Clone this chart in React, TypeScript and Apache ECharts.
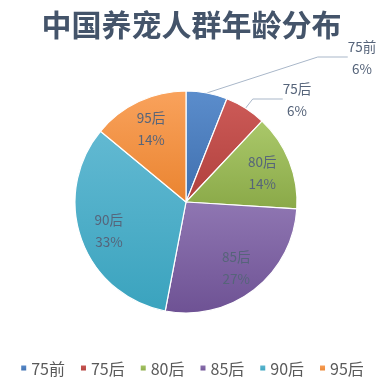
import React, { useEffect, useRef } from "react";
import * as echarts from "echarts";

const titleText = "中国养宠人群年龄分布";
const categories = ["75前", "75后", "80后", "85后", "90后", "95后"];
const shares = [6, 6, 14, 27, 33, 14];
const topColors = ["#5b8dcc", "#cc5a57", "#aac86a", "#8f76b2", "#62b9d2", "#f9a25c"];
const bottomColors = ["#3f6fae", "#b0403d", "#8aa948", "#6e5294", "#3aa3be", "#ea8430"];
const outsideLabels = [true, true, false, false, false, false];

const grad = (i: number) =>
  new echarts.graphic.LinearGradient(0, 0, 0, 1, [
    { offset: 0, color: topColors[i] },
    { offset: 1, color: bottomColors[i] },
  ]);

export default function App() {
  const ref = useRef<HTMLDivElement>(null);
  useEffect(() => {
    if (!ref.current) return;
    const chart = echarts.init(ref.current, undefined, { renderer: "svg" });
    const labelColor = "#56647a";
    const font = "'Noto Sans CJK SC', 'Noto Sans', sans-serif";
    const mainData = categories.map((name, i) => ({
      name,
      value: shares[i],
      itemStyle: { color: grad(i) },
      label: { show: outsideLabels[i] },
      labelLine: { show: outsideLabels[i] },
    }));
    const innerData = categories.map((name, i) => ({
      name,
      value: shares[i],
      label: { show: !outsideLabels[i] },
    }));
    const outsidePos: Record<number, [number, number]> = {
      0: [362, 57],
      1: [297, 99],
    };
    chart.setOption({
      animation: false,
      color: topColors,
      title: {
        text: titleText,
        left: "center",
        top: 3,
        textStyle: {
          fontSize: 30,
          fontWeight: "bold",
          color: "#44546a",
          fontFamily: font,
        },
      },
      legend: {
        bottom: 2,
        left: "center",
        icon: "rect",
        itemWidth: 7,
        itemHeight: 7,
        itemGap: 14,
        data: categories,
        textStyle: { fontSize: 16, color: "#595959", fontFamily: font, padding: [0, 0, 0, -1] },
      },
      series: [
        {
          type: "pie",
          center: [186, 202],
          radius: [0, 111],
          startAngle: 90,
          clockwise: true,
          itemStyle: { borderColor: "#ffffff", borderWidth: 1.2 },
          data: mainData,
          label: {
            position: "outside",
            formatter: "{b}\n{c}%",
            color: labelColor,
            fontSize: 13.5,
            lineHeight: 22,
            fontFamily: font,
            align: "center",
          },
          labelLine: {
            lineStyle: { color: "#a9b7c9", width: 1 },
          },
          labelLayout: (p: any) => {
            const pos = outsidePos[p.dataIndex];
            if (!pos) return {};
            return { x: pos[0], y: pos[1], align: "center", verticalAlign: "middle" };
          },
          emphasis: { disabled: true },
        },
        {
          type: "pie",
          center: [186, 202],
          radius: [0, 158],
          startAngle: 90,
          clockwise: true,
          silent: true,
          itemStyle: { color: "rgba(0,0,0,0)", borderWidth: 0 },
          data: innerData,
          label: {
            position: "inside",
            formatter: "{b}\n{c}%",
            color: labelColor,
            fontSize: 13.5,
            lineHeight: 22,
            fontFamily: font,
          },
          labelLine: { show: false },
          emphasis: { disabled: true },
          tooltip: { show: false },
        },
      ],
    });
    return () => chart.dispose();
  }, []);
  return (
    <div
      ref={ref}
      style={{ position: "fixed", left: 0, top: 0, width: 383, height: 383 }}
    />
  );
}
